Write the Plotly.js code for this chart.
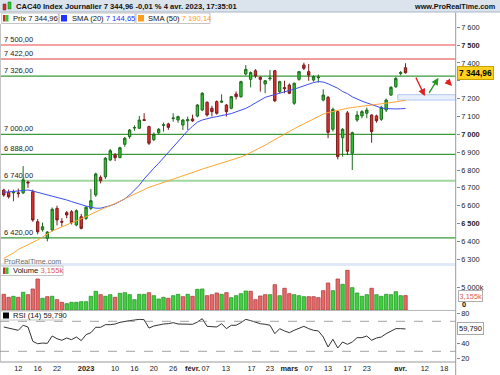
<!DOCTYPE html>
<html><head><meta charset="utf-8">
<script src="https://cdn.plot.ly/plotly-3.0.1.min.js"></script>
<style>html,body{margin:0;padding:0;background:#fff;}#chart{width:500px;height:375px;}</style>
</head><body><div id="chart"></div>
<script>
// ---- DATA (trading days, Dec 7 2022 -> Apr 4 2023) ----
const days = ["2022-12-07","2022-12-08","2022-12-09","2022-12-12","2022-12-13","2022-12-14","2022-12-15","2022-12-16","2022-12-19","2022-12-20",
"2022-12-21","2022-12-22","2022-12-23","2022-12-27","2022-12-28","2022-12-29","2022-12-30","2023-01-02","2023-01-03","2023-01-04",
"2023-01-05","2023-01-06","2023-01-09","2023-01-10","2023-01-11","2023-01-12","2023-01-13","2023-01-16","2023-01-17","2023-01-18",
"2023-01-19","2023-01-20","2023-01-23","2023-01-24","2023-01-25","2023-01-26","2023-01-27","2023-01-30","2023-01-31","2023-02-01",
"2023-02-02","2023-02-03","2023-02-06","2023-02-07","2023-02-08","2023-02-09","2023-02-10","2023-02-13","2023-02-14","2023-02-15",
"2023-02-16","2023-02-17","2023-02-20","2023-02-21","2023-02-22","2023-02-23","2023-02-24","2023-02-27","2023-02-28","2023-03-01",
"2023-03-02","2023-03-03","2023-03-06","2023-03-07","2023-03-08","2023-03-09","2023-03-10","2023-03-13","2023-03-14","2023-03-15",
"2023-03-16","2023-03-17","2023-03-20","2023-03-21","2023-03-22","2023-03-23","2023-03-24","2023-03-27","2023-03-28","2023-03-29",
"2023-03-30","2023-03-31","2023-04-03","2023-04-04"];
const opens = [6688,6675,6672,6672,6672,6732,6678,6510,6465,6418,
6464,6585,6512,6561,6566,6492,6538,6529,6585,6660,
6759,6762,6856,6884,6870,6944,6987,7035,7034,7082,
7043,6970,7009,7050,7058,7088,7080,7052,7076,7086,
7102,7136,7179,7146,7183,7180,7164,7146,7226,7211,
7338,7308,7356,7319,7282,7311,7356,7239,7262,7276,
7174,7308,7388,7351,7304,7317,7192,7207,7028,7127,
6981,7120,6894,7080,7103,7118,7108,7103,7084,7136,
7220,7267,7340,7373];
const highs = [6695,6690,6690,6696,6822,6740,6690,6525,6505,6458,
6590,6600,6530,6570,6575,6580,6554,6598,6694,6785,
6770,6872,6918,6895,6930,6985,7030,7050,7103,7118,
7048,7010,7035,7065,7065,7118,7105,7085,7099,7110,
7170,7236,7185,7160,7190,7224,7170,7215,7240,7300,
7388,7352,7365,7325,7305,7360,7360,7300,7300,7285,
7290,7355,7401,7394,7330,7335,7252,7215,7150,7130,
7035,7130,7015,7130,7135,7150,7112,7110,7160,7200,
7270,7322,7355,7398];
const lows = [6650,6640,6625,6646,6665,6700,6510,6440,6455,6400,
6455,6490,6482,6530,6495,6485,6467,6520,6575,6650,
6725,6750,6850,6850,6865,6930,6975,7020,7030,7075,
6940,6962,7000,7015,7025,7071,7065,7024,7024,7070,
7095,7130,7100,7100,7110,7175,7100,7140,7195,7205,
7330,7263,7315,7239,7230,7300,7180,7230,7230,7225,
7165,7300,7360,7300,7295,7290,7185,6978,7015,6860,
6875,6884,6800,7070,7090,7090,6953,7065,7075,7125,
7215,7260,7330,7340];
const closes = [6660,6650,6677,6668,6745,6728,6520,6454,6482,6452,
6580,6520,6508,6548,6505,6572,6473,6591,6628,6778,
6740,6866,6908,6869,6925,6978,7024,7038,7080,7078,
6950,7000,7028,7053,7039,7091,7099,7080,7082,7075,
7164,7230,7108,7127,7118,7185,7127,7211,7211,7295,
7364,7346,7327,7308,7300,7315,7188,7295,7256,7230,
7286,7351,7370,7332,7323,7320,7220,7011,7140,6875,
7028,6905,7009,7108,7127,7136,7015,7076,7151,7192,
7263,7313,7345.7,7344.96];
const sma20 = [6675,6678,6681,6684,6687,6688,6682,6675,6668,6662,
6657,6650,6641,6632,6623,6614,6605,6598,6592,6586,
6586,6592,6600,6610,6622,6638,6660,6685,6715,6750,
6782,6810,6838,6868,6898,6930,6962,6992,7020,7045,
7068,7080,7088,7094,7099,7104,7108,7116,7126,7136,
7145,7160,7175,7190,7207,7215,7222,7230,7238,7245,
7253,7262,7272,7282,7290,7295,7293,7283,7272,7258,
7240,7228,7210,7197,7186,7176,7166,7154,7148,7144,
7142,7142,7143,7144.65];
const sma50 = [6305,6318,6335,6355,6368,6378,6392,6408,6425,6443,
6458,6470,6481,6492,6503,6515,6527,6538,6552,6566,
6578,6590,6600,6611,6625,6639,6652,6665,6677,6690,
6703,6712,6721,6730,6738,6746,6755,6765,6775,6785,
6795,6805,6813,6821,6829,6837,6846,6855,6864,6873,
6884,6897,6911,6925,6939,6955,6971,6987,7003,7017,
7031,7045,7059,7073,7087,7100,7113,7122,7129,7135,
7140,7146,7150,7153,7156,7162,7165,7168,7171,7174,
7178,7182,7186,7190.14];
const volumes = [3435,2779,2998,2779,3873,3363,4602,6790,2560,2925,
2998,2268,1685,1393,1685,1685,1831,1831,2998,4092,
3363,2998,3363,2779,3654,3800,3363,2268,3435,3435,
3800,3144,2414,2779,2560,3144,3435,2925,3435,2998,
4530,4602,3144,3363,3727,3435,3800,2706,3144,3582,
4164,4092,2268,3071,3363,3363,5551,3144,4748,3582,
3363,3144,2925,2925,2925,2706,4238,5915,4238,6790,
5624,8687,4895,3727,2998,3363,4748,3363,2998,3435,
3363,4019,3144,3155];
const volDir = ["d","d","u","d","u","d","d","d","u","d",
"u","d","d","u","u","u","u","u","u","u",
"d","u","u","d","u","u","u","u","u","u",
"d","u","u","u","d","u","u","d","u","d",
"u","u","d","d","d","u","d","u","u","u",
"u","d","d","d","d","u","d","u","d","d",
"u","u","u","d","d","d","d","d","u","d",
"u","d","u","u","u","u","d","u","u","u",
"u","u","u","d"];
const rsi = [62.4,61,60.2,58,64.7,62.4,43.3,40.1,41,40.6,
50.4,46.8,44.7,47.7,45.5,49.1,44.2,52.2,54.8,62,
62,65.5,65.5,66.4,68.6,70,70.9,71.7,72.6,72.1,
61,63.7,65.5,66.4,66.8,68.2,66.4,66.4,66.4,66,
69,73.5,63.3,62.4,62.4,66.8,60.2,64.7,64.7,68.2,
72.6,70.9,68.6,66.8,66,64.7,53.5,60.2,57.1,54.8,
58,61,63.3,60.2,58,57.1,49.1,35.7,46,34.4,
42.4,39.3,42.4,48.2,48.2,50.4,44.7,47.7,49.1,53.5,
57.1,60.2,60.2,59.79];
// x-axis labels (positions in trading-day index, incl. future days)
const xTickPos = [3,7,11,17,23,27,31,35,39,41.7,45.9,51.2,55,59,63,67,71,75,82,87,91];
const xTickText = ["12","16","22","<b>2023</b>","10","16","20","26","<b>févr.</b>","07","13","17","23","<b>mars</b>","07","13","17","23","<b>avr.</b>","12","18"];
const priceTicks = [6300,6400,6500,6600,6700,6800,6900,7000,7100,7200,7300,7400,7500,7600];
const boldPriceTicks = [6500,7000,7500];
const hiddenPriceTicks = [7300];
const levels = [7500,7422,7326,7000,6888,6740,6420];
const levelColors = ["#f3a3a3","#e03c3c","#3a9a3a","#3a9a3a","#3a9a3a","#9fd89f","#3a9a3a"];
const levelWidths = [2,1.2,1.2,1.2,1.2,2,1.2];
const zone = [7192,7222];
const arrows = [ // [x0,y0,x1,y1,color]
  [85.0,7326,87.0,7214,"#e02020"],
  [87.7,7224,89.8,7317,"#229922"],
  [91.2,7311,92.6,7270,"#e02020"]];
const rsiBands = [70,30];
const rsiTicks = [20,40,80];
const volTicks = [5000];

// ---- helpers ----
const W=500,H=375;
const PX=x=>x/W, PY=y=>1-y/H;
const fmt=(v,d)=>{const s=v.toFixed(d).split('.');const i=s[0].replace(/\B(?=(\d{3})+(?!\d))/g,' ');return d?i+','+s[1]:i;};
const FONT="Liberation Sans, Arial, sans-serif";
const xs = days.map((d,i)=>i);
const last = closes.length-1;
const XR=[-0.78,93.37], XD=[0,PX(455.7)];

const traces = [
 {type:'candlestick',x:xs,open:opens,high:highs,low:lows,close:closes,xaxis:'x',yaxis:'y',
  increasing:{line:{color:'#1d6a1d',width:1},fillcolor:'#2ec82e'},
  decreasing:{line:{color:'#7d1a1a',width:1},fillcolor:'#e23030'},
  whiskerwidth:0,hoverinfo:'skip',showlegend:false},
 {type:'scatter',mode:'lines',x:xs,y:sma20,line:{color:'#3d4ef0',width:1},xaxis:'x',yaxis:'y',hoverinfo:'skip',showlegend:false},
 {type:'scatter',mode:'lines',x:xs,y:sma50,line:{color:'#ffa535',width:1},xaxis:'x',yaxis:'y',hoverinfo:'skip',showlegend:false},
 {type:'bar',x:xs,y:volumes,width:0.72,xaxis:'x',yaxis:'y2',hoverinfo:'skip',showlegend:false,
  marker:{color:volDir.map(d=>d==='u'?'#3fcf3f':'#e46a6a'),line:{color:volDir.map(d=>d==='u'?'#1f8f1f':'#b03030'),width:0.7}}},
 {type:'scatter',mode:'lines',x:xs,y:rsi,line:{color:'#333',width:1},xaxis:'x',yaxis:'y3',hoverinfo:'skip',showlegend:false}
];

const shapes = [];
const ann = [];
// header
shapes.push({type:'rect',xref:'paper',yref:'paper',x0:0,x1:1,y0:PY(12),y1:1,fillcolor:'#dbe3ec',line:{width:0},layer:'below'});
shapes.push({type:'line',xref:'paper',yref:'paper',x0:0,x1:1,y0:PY(12),y1:PY(12),line:{color:'#a9b7c6',width:1}});
shapes.push({type:'rect',xref:'paper',yref:'paper',x0:PX(3),x1:PX(6),y0:PY(10),y1:PY(4),fillcolor:'#d52b2b',line:{color:'#7d1a1a',width:0.5}});
shapes.push({type:'rect',xref:'paper',yref:'paper',x0:PX(8),x1:PX(11),y0:PY(9),y1:PY(2),fillcolor:'#2ec82e',line:{color:'#1d6a1d',width:0.5}});
ann.push({xref:'paper',yref:'paper',x:PX(14),y:PY(6.3),xanchor:'left',yanchor:'middle',showarrow:false,
  text:'<b>CAC40 Index Journalier '+fmt(closes[last],2)+' -0,01 % 4 avr. 2023, 17:35:01</b>',font:{family:FONT,size:7.6,color:'#111'}});
ann.push({xref:'paper',yref:'paper',x:PX(498),y:PY(6.3),xanchor:'right',yanchor:'middle',showarrow:false,
  text:'<b>www.ProRealTime.com</b>',font:{family:FONT,size:7.3,color:'#111'}});
// legend boxes
[[1.7,58.3],[59.3,135],[136,210]].forEach(b=>shapes.push({type:'rect',xref:'paper',yref:'paper',x0:PX(b[0]),x1:PX(b[1]),y0:PY(23.5),y1:PY(13),fillcolor:'#fff',line:{color:'#c4c4c4',width:1}}));
shapes.push({type:'rect',xref:'paper',yref:'paper',x0:PX(3),x1:PX(5.5),y0:PY(21.5),y1:PY(15),fillcolor:'#d52b2b',line:{width:0}});
shapes.push({type:'rect',xref:'paper',yref:'paper',x0:PX(5.5),x1:PX(8.5),y0:PY(21.5),y1:PY(15),fillcolor:'#2ec82e',line:{width:0}});
shapes.push({type:'rect',xref:'paper',yref:'paper',x0:PX(61),x1:PX(67),y0:PY(21.5),y1:PY(15),fillcolor:'#2233ff',line:{width:0}});
shapes.push({type:'rect',xref:'paper',yref:'paper',x0:PX(138),x1:PX(144),y0:PY(21.5),y1:PY(15),fillcolor:'#ff9d1f',line:{width:0}});
ann.push({xref:'paper',yref:'paper',x:PX(10.5),y:PY(18.3),xanchor:'left',yanchor:'middle',showarrow:false,text:'Prix '+fmt(closes[last],2),font:{family:FONT,size:7.6,color:'#111'}});
ann.push({xref:'paper',yref:'paper',x:PX(69.5),y:PY(18.3),xanchor:'left',yanchor:'middle',showarrow:false,text:'SMA (20) <span style="color:#2233ff">'+fmt(sma20[last],2)+'</span>',font:{family:FONT,size:7.6,color:'#111'}});
ann.push({xref:'paper',yref:'paper',x:PX(146),y:PY(18.3),xanchor:'left',yanchor:'middle',showarrow:false,text:'SMA (50) <span style="color:#ff9d1f">'+fmt(sma50[last],2)+'</span>',font:{family:FONT,size:7.6,color:'#111'}});
// level lines + labels
levels.forEach((v,i)=>{
  shapes.push({type:'line',xref:'paper',yref:'y',x0:0,x1:XD[1],y0:v,y1:v,line:{color:levelColors[i],width:levelWidths[i]},layer:'below'});
  ann.push({xref:'paper',yref:'y',x:PX(2),y:v,yshift:5.5,xanchor:'left',yanchor:'middle',showarrow:false,text:fmt(v,2),font:{family:FONT,size:7.5,color:'#222'}});
});
shapes.push({type:'rect',xref:'x',yref:'y',x0:81.4,x1:XR[1],y0:zone[0],y1:zone[1],fillcolor:'rgba(190,210,250,0.35)',line:{color:'#b5c8f2',width:1},layer:'below'});
arrows.forEach(a=>ann.push({xref:'x',yref:'y',axref:'x',ayref:'y',x:a[2],y:a[3],ax:a[0],ay:a[1],text:'',showarrow:true,arrowhead:2,arrowsize:1.1,arrowwidth:1.3,arrowcolor:a[4]}));
ann.push({xref:'paper',yref:'paper',x:PX(1.5),y:PY(261),xanchor:'left',yanchor:'middle',showarrow:false,text:'ProRealTime.com',font:{family:FONT,size:7.2,color:'#6d6d6d'}});
// panel separators / frame
shapes.push({type:'rect',xref:'paper',yref:'paper',x0:0,x1:XD[1],y0:PY(266),y1:PY(263),fillcolor:'#dfe9f7',line:{width:0}});
shapes.push({type:'line',xref:'paper',yref:'paper',x0:0,x1:XD[1],y0:PY(310.5),y1:PY(310.5),line:{color:'#b8b8b8',width:1}});
shapes.push({type:'line',xref:'paper',yref:'paper',x0:0,x1:XD[1],y0:PY(362),y1:PY(362),line:{color:'#9a9a9a',width:1}});
shapes.push({type:'line',xref:'paper',yref:'paper',x0:XD[1],x1:XD[1],y0:0,y1:PY(12.5),line:{color:'#9a9a9a',width:1}});
shapes.push({type:'line',xref:'paper',yref:'paper',x0:PX(0.5),x1:PX(0.5),y0:PY(362),y1:PY(24),line:{color:'#c4c4c4',width:1}});
rsiBands.forEach(v=>shapes.push({type:'line',xref:'paper',yref:'y3',x0:0,x1:XD[1],y0:v,y1:v,line:{color:'#8a8a8a',width:0.8,dash:'dash'}}));
// volume legend
shapes.push({type:'rect',xref:'paper',yref:'paper',x0:PX(0.5),x1:PX(63),y0:PY(275.5),y1:PY(266),fillcolor:'#fff',line:{color:'#c4c4c4',width:1}});
shapes.push({type:'rect',xref:'paper',yref:'paper',x0:PX(3),x1:PX(5.5),y0:PY(274),y1:PY(267.5),fillcolor:'#d52b2b',line:{width:0}});
shapes.push({type:'rect',xref:'paper',yref:'paper',x0:PX(5.5),x1:PX(8.5),y0:PY(274),y1:PY(267.5),fillcolor:'#2ec82e',line:{width:0}});
ann.push({xref:'paper',yref:'paper',x:PX(10.5),y:PY(270.8),xanchor:'left',yanchor:'middle',showarrow:false,text:'Volume <span style="color:#e05a5a">'+fmt(volumes[last]/1000,3)+'k</span>',font:{family:FONT,size:7.6,color:'#111'}});
// rsi legend
shapes.push({type:'rect',xref:'paper',yref:'paper',x0:PX(0.5),x1:PX(62),y0:PY(320),y1:PY(311),fillcolor:'#fff',line:{color:'#c4c4c4',width:1}});
shapes.push({type:'rect',xref:'paper',yref:'paper',x0:PX(3),x1:PX(9),y0:PY(318.5),y1:PY(312.5),fillcolor:'#000',line:{width:0}});
ann.push({xref:'paper',yref:'paper',x:PX(10.5),y:PY(315.5),xanchor:'left',yanchor:'middle',showarrow:false,text:'RSI (14) '+fmt(rsi[last],3),font:{family:FONT,size:7.6,color:'#111'}});
// right-axis value boxes
ann.push({xref:'paper',yref:'y',x:PX(457),y:closes[last],xanchor:'left',yanchor:'middle',showarrow:false,text:'<b>'+fmt(closes[last],2)+'</b>',
  font:{family:FONT,size:8.4,color:'#000'},bgcolor:'#ffd21f',bordercolor:'#c9a200',borderwidth:1,borderpad:1});
ann.push({xref:'paper',yref:'y2',x:PX(458),y:volumes[last],xanchor:'left',yanchor:'middle',showarrow:false,text:fmt(volumes[last]/1000,3)+'k',
  font:{family:FONT,size:7.4,color:'#e05a5a'},bgcolor:'#fff',bordercolor:'#b0b0b0',borderwidth:1,borderpad:0.5});
ann.push({xref:'paper',yref:'paper',x:PX(460),y:PY(304.5),xanchor:'left',yanchor:'middle',showarrow:false,text:'<b>0</b>',font:{family:FONT,size:7.5,color:'#111'}});
ann.push({xref:'paper',yref:'y3',x:PX(457),y:rsi[last],xanchor:'left',yanchor:'middle',showarrow:false,text:fmt(rsi[last],3),
  font:{family:FONT,size:7.5,color:'#111'},bgcolor:'#fff',bordercolor:'#a8a8a8',borderwidth:1,borderpad:1});

const axFont={family:FONT,size:7.4,color:'#222'};
const layout = {
  width:W,height:H,margin:{l:0,r:0,t:0,b:0},paper_bgcolor:'#fff',plot_bgcolor:'#fff',
  showlegend:false,boxgap:0.3,bargap:0,dragmode:false,
  xaxis:{domain:XD,range:XR,anchor:'y3',showgrid:false,zeroline:false,showline:false,automargin:false,
    tickmode:'array',tickvals:xTickPos,ticktext:xTickText,ticks:'',tickangle:0,ticklabelstandoff:1,tickfont:{family:FONT,size:7.4,color:'#222'},rangeslider:{visible:false},fixedrange:true},
  yaxis:{domain:[PY(263),PY(24)],range:[6279,7618],side:'right',anchor:'x',showgrid:false,zeroline:false,showline:false,automargin:false,
    tickmode:'array',tickvals:priceTicks,ticktext:priceTicks.map(v=>hiddenPriceTicks.includes(v)?'':(boldPriceTicks.includes(v)?'<b>'+fmt(v,0)+'</b>':fmt(v,0))),
    ticks:'outside',ticklen:3,tickcolor:'#888',tickfont:axFont,fixedrange:true},
  yaxis2:{domain:[PY(310),PY(266)],range:[0,9628],side:'right',anchor:'x',showgrid:false,zeroline:false,showline:false,automargin:false,
    tickmode:'array',tickvals:volTicks,ticktext:volTicks.map(v=>fmt(v,0)+'k'),ticks:'outside',ticklen:3,tickcolor:'#888',tickfont:axFont,fixedrange:true},
  yaxis3:{domain:[PY(362),PY(311)],range:[15.73,83.73],side:'right',anchor:'x',showgrid:false,zeroline:false,showline:false,automargin:false,
    tickmode:'array',tickvals:rsiTicks,ticks:'outside',ticklen:3,tickcolor:'#888',tickfont:axFont,fixedrange:true},
  shapes:shapes,annotations:ann
};
Plotly.newPlot('chart',traces,layout,{staticPlot:true,displayModeBar:false});
</script></body></html>
